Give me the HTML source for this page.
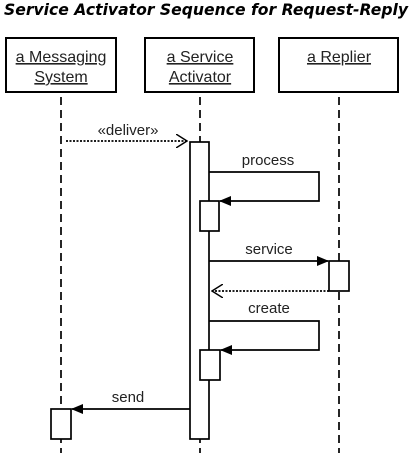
<!DOCTYPE html>
<html><head><style>body{margin:0;background:#fff}svg{display:block}</style></head>
<body>
<svg width="413" height="473" viewBox="0 0 413 473" xmlns="http://www.w3.org/2000/svg">
<defs>
<marker id="f" markerWidth="12" markerHeight="10" refX="11" refY="5" orient="auto" markerUnits="userSpaceOnUse"><path d="M0,0 L12,5 L0,10 z" fill="#000"/></marker>
<marker id="o" markerWidth="12" markerHeight="14" refX="11" refY="7" orient="auto" markerUnits="userSpaceOnUse"><path d="M0,0 L11,7 L0,14" fill="none" stroke="#000" stroke-width="1.4"/></marker>
</defs>
<text x="4" y="15" font-family="DejaVu Sans, sans-serif" font-weight="bold" font-style="italic" font-size="16" textLength="404" lengthAdjust="spacingAndGlyphs">Service Activator Sequence for Request-Reply</text>
<g fill="#fff" stroke="#000" stroke-width="2">
<rect x="6" y="38" width="110" height="54"/>
<rect x="145" y="38" width="109" height="54"/>
<rect x="279" y="38" width="119" height="54"/>
</g>
<g font-family="Liberation Sans, sans-serif" font-size="16" text-anchor="middle" text-decoration="underline" fill="#222">
<text x="61" y="62">a Messaging</text><text x="61" y="82">System</text>
<text x="200" y="62">a Service</text><text x="200" y="82">Activator</text>
<text x="339" y="62">a Replier</text>
</g>
<g stroke="#000" stroke-width="1.7" stroke-dasharray="8,5">
<line x1="61" y1="97" x2="61" y2="453"/>
<line x1="200" y1="97" x2="200" y2="453"/>
<line x1="339" y1="97" x2="339" y2="453"/>
</g>
<g fill="#fff" stroke="#000" stroke-width="1.7">
<rect x="190" y="142" width="19" height="297"/>
<rect x="200" y="201" width="19" height="30"/>
<rect x="329" y="261" width="20" height="30"/>
<rect x="200" y="350" width="20" height="30"/>
<rect x="51" y="409" width="20" height="30"/>
</g>
<g stroke="#000" stroke-width="1.7" fill="none">
<line x1="66" y1="141" x2="187" y2="141" stroke-dasharray="2,1.5" marker-end="url(#o)"/>
<polyline points="209,172 319,172 319,201 220,201" marker-end="url(#f)"/>
<line x1="209" y1="261" x2="328" y2="261" marker-end="url(#f)"/>
<line x1="329" y1="291" x2="212" y2="291" stroke-dasharray="2,1.5" marker-end="url(#o)"/>
<polyline points="209,321 319,321 319,350 221,350" marker-end="url(#f)"/>
<line x1="190" y1="409" x2="72" y2="409" marker-end="url(#f)"/>
</g>
<g font-family="Liberation Sans, sans-serif" font-size="15" text-anchor="middle" fill="#222">
<text x="128" y="135">«deliver»</text>
<text x="268" y="165">process</text>
<text x="269" y="254">service</text>
<text x="269" y="313">create</text>
<text x="128" y="402">send</text>
</g>
</svg>
</body></html>
